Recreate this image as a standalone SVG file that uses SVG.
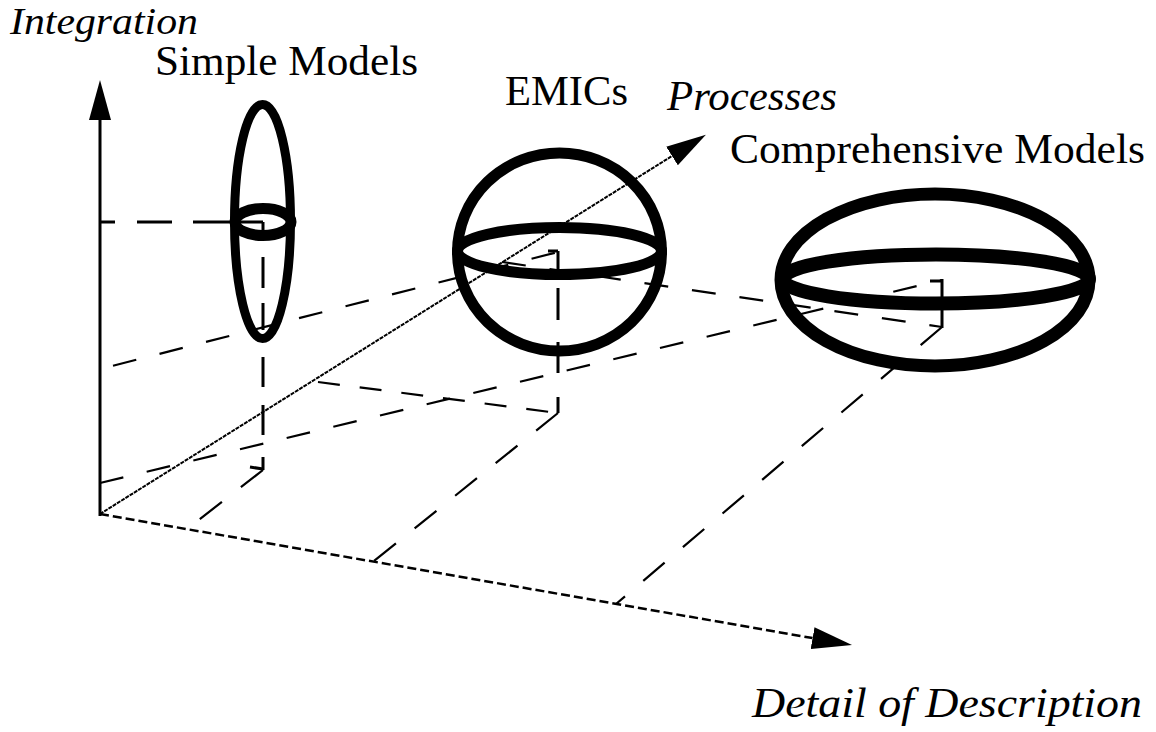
<svg xmlns="http://www.w3.org/2000/svg" width="1156" height="732" viewBox="0 0 1156 732">
<defs>
<marker id="arrow" viewBox="0 0 40 24" refX="0" refY="12" markerWidth="40" markerHeight="24" markerUnits="userSpaceOnUse" orient="auto">
<path d="M0,1 L40,12 L0,23 Z" fill="#000"/>
</marker>
<style>
.lbl{font-family:"Liberation Serif","Times New Roman",serif;font-size:42px;fill:#000}
.it{font-style:italic}
.guide{fill:none;stroke:#000;stroke-width:2.2;stroke-dasharray:24 24}
.diag{fill:none;stroke:#000;stroke-width:2.2;stroke-dasharray:28 24}
.drop{fill:none;stroke:#000;stroke-width:3}
.shell{fill:none;stroke:#000}
</style>
</defs>
<rect width="1156" height="732" fill="#fff"/>

<g id="connectors">
  <!-- simple model projections -->
  <path class="drop" d="M100,222 H115 M137,222 H172 M193,222 H263"/>
  <path class="drop" d="M263,222 V232 M263,257 V288 M263,303 V330 M263,357 V387 M263,405 V435 M263,457 V470"/>
  <path class="drop" d="M250,467 L263,469"/>
  <line class="diag" x1="263" y1="470" x2="187" y2="529"/>
  <!-- EMIC projections -->
  <line class="guide" x1="113" y1="365.7" x2="558" y2="252"/>
  <path class="drop" d="M548,251 H558 M558,251 V272 M558,288 V320 M558,342 V373 M558,397 V413"/>
  <line class="guide" style="stroke-dasharray:22 20" x1="318" y1="382" x2="558" y2="413"/>
  <line class="diag" x1="558" y1="413" x2="374" y2="561"/>
  <!-- comprehensive projections -->
  <line class="guide" x1="100" y1="483" x2="942" y2="280"/>
  <path class="drop" d="M930,281 H942 M942,279 V328"/>
  <line class="guide" x1="502" y1="262" x2="942" y2="327"/>
  <line class="diag" x1="942" y1="327" x2="616" y2="604"/>
</g>

<g id="axes">
  <line x1="100" y1="516" x2="100" y2="120" stroke="#000" stroke-width="3" marker-end="url(#arrow)"/>
  <line x1="100" y1="514" x2="672" y2="156" stroke="#000" stroke-width="2" stroke-dasharray="4 1" marker-end="url(#arrow)"/>
  <line x1="100" y1="514" x2="812.6" y2="638.1" stroke="#000" stroke-width="2.5" stroke-dasharray="9 4" marker-end="url(#arrow)"/>
  <text class="lbl it" x="10" y="34" style="font-size:37px" textLength="188" lengthAdjust="spacingAndGlyphs">Integration</text>
  <text class="lbl it" x="667" y="110" textLength="170" lengthAdjust="spacingAndGlyphs">Processes</text>
  <text class="lbl it" x="752" y="717" textLength="390" lengthAdjust="spacingAndGlyphs">Detail of Description</text>
</g>

<g id="simple-models">
  <ellipse class="shell" cx="262.5" cy="221.5" rx="28" ry="117" stroke-width="9"/>
  <ellipse class="shell" cx="263" cy="222" rx="28" ry="13.5" stroke-width="11"/>
  <text class="lbl" x="155" y="75" textLength="263" lengthAdjust="spacingAndGlyphs">Simple Models</text>
</g>

<g id="emics">
  <ellipse class="shell" cx="559.5" cy="252" rx="102" ry="99" stroke-width="11"/>
  <ellipse class="shell" cx="559.5" cy="251" rx="102" ry="23.5" stroke-width="11"/>
  <text class="lbl" x="505" y="105" textLength="123" lengthAdjust="spacingAndGlyphs">EMICs</text>
</g>

<g id="comprehensive-models">
  <ellipse class="shell" cx="935" cy="280" rx="154" ry="86" stroke-width="13"/>
  <ellipse class="shell" cx="936" cy="279" rx="153" ry="24.5" stroke-width="14"/>
  <text class="lbl" x="730" y="163" textLength="415" lengthAdjust="spacingAndGlyphs">Comprehensive Models</text>
</g>
</svg>
